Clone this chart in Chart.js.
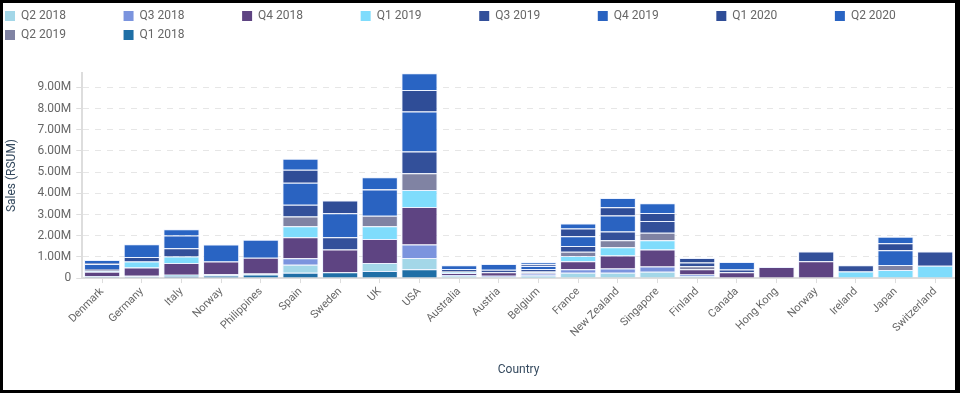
<!DOCTYPE html>
<html lang="en">
<head>
    <meta charset="UTF-8">
    <title>Sales (RSUM) by Country</title>
    <style>
        html, body { margin: 0; padding: 0; background: #000; }
        .frame {
            position: absolute; left: 3px; top: 3px; width: 952px; height: 387px;
            background: #fff; overflow: hidden;
        }
        #salesChart { position: absolute; left: -5px; top: 0; }
    </style>
</head>
<body>
    <div class="frame">
        <canvas id="salesChart" width="957" height="387"></canvas>
    </div>

    <script src="https://cdn.jsdelivr.net/npm/chart.js@4.4.1/dist/chart.umd.min.js"></script>
    <script>
        // values in millions
        var countries = ['Denmark', 'Germany', 'Italy', 'Norway', 'Philippines', 'Spain', 'Sweden', 'UK', 'USA',
            'Australia', 'Austria', 'Belgium', 'France', 'New Zealand', 'Singapore', 'Finland', 'Canada',
            'Hong Kong', 'Norway', 'Ireland', 'Japan', 'Switzerland'];

        var q1_2018 = [0.05, 0.06, 0.10, 0.12, 0.17, 0.25, 0.28, 0.33, 0.42, 0.03, 0, 0.02, 0, 0, 0, 0, 0, 0, 0, 0, 0, 0];
        var q2_2018 = [0.03, 0.03, 0.06, 0.06, 0.05, 0.38, 0, 0.38, 0.53, 0.08, 0.06, 0.10, 0.25, 0.25, 0.30, 0.09, 0, 0, 0, 0, 0, 0];
        var q3_2018 = [0.02, 0.02, 0, 0, 0, 0.31, 0, 0, 0.63, 0.03, 0.05, 0.10, 0.17, 0.20, 0.25, 0.08, 0, 0, 0, 0, 0, 0];
        var q4_2018 = [0.20, 0.39, 0.55, 0.60, 0.74, 0.99, 1.07, 1.13, 1.78, 0.10, 0.16, 0.03, 0.38, 0.61, 0.80, 0.25, 0.27, 0.52, 0.79, 0, 0, 0];
        var q1_2019 = [0.03, 0.28, 0.31, 0, 0, 0.52, 0, 0.61, 0.80, 0.04, 0, 0.03, 0.24, 0.39, 0.44, 0, 0, 0, 0, 0.31, 0.38, 0.58];
        var q2_2019 = [0.05, 0, 0, 0, 0, 0.46, 0, 0.49, 0.79, 0.05, 0, 0.03, 0.20, 0.33, 0.35, 0.14, 0, 0, 0, 0, 0.24, 0];
        var q3_2019 = [0.05, 0, 0.39, 0, 0, 0.55, 0.58, 0, 1.02, 0.10, 0.12, 0.12, 0.27, 0.42, 0.55, 0.17, 0.14, 0, 0.47, 0.30, 0, 0.68];
        var q4_2019 = [0.24, 0, 0.60, 0, 0.85, 1.04, 1.13, 1.24, 1.89, 0.17, 0.27, 0.14, 0.47, 0.75, 0, 0, 0.35, 0, 0, 0, 0.69, 0];
        var q1_2020 = [0.04, 0.22, 0, 0, 0, 0.61, 0.60, 0.03, 1.02, 0, 0, 0.08, 0.36, 0.39, 0.38, 0.22, 0, 0, 0, 0, 0.33, 0];
        var q2_2020 = [0.14, 0.60, 0.30, 0.80, 0, 0.52, 0, 0.55, 0.79, 0, 0, 0.10, 0.24, 0.44, 0.46, 0, 0, 0, 0, 0, 0.31, 0];

        // stacking order is chronological, legend order is not
        var quarters = ['Q1 2018', 'Q2 2018', 'Q3 2018', 'Q4 2018', 'Q1 2019', 'Q2 2019', 'Q3 2019', 'Q4 2019', 'Q1 2020', 'Q2 2020'];
        var series = [q1_2018, q2_2018, q3_2018, q4_2018, q1_2019, q2_2019, q3_2019, q4_2019, q1_2020, q2_2020];
        var colors = ['#1f6fa6', '#a3d7e8', '#7b94de', '#5e4482', '#7fdcfc', '#8083a3', '#33509a', '#2a63c1', '#2f4d97', '#2964c3'];
        var legendOrder = ['Q2 2018', 'Q3 2018', 'Q4 2018', 'Q1 2019', 'Q3 2019', 'Q4 2019', 'Q1 2020', 'Q2 2020', 'Q2 2019', 'Q1 2018'];
        var rowEnds = ['Q2 2020', 'Q1 2018'];

        var yMax = 9.68;
        var yTicks = [0, 1, 2, 3, 4, 5, 6, 7, 8, 9];

        Chart.defaults.font.family = 'Roboto, "Open Sans", sans-serif';
        Chart.defaults.color = '#666';

        // legend columns in the picture are evenly spaced, so pad the label text
        var measure = document.createElement('canvas').getContext('2d');
        measure.font = '12px Roboto';
        function padLabel(text) {
            var s = text;
            while (measure.measureText(s + ' ').width <= 96) s += ' ';
            return s;
        }

        var datasets = quarters.map(function (q, i) {
            return {
                label: q,
                data: series[i].map(function (v) { return v === 0 ? null : v; }),
                backgroundColor: colors[i],
                borderColor: 'rgba(220,232,255,0.55)',
                borderWidth: 1,
                categoryPercentage: 0.91,
                barPercentage: 1.0
            };
        });

        var legendGap = {
            id: 'legendGap',
            beforeInit: function (chart) {
                var fit = chart.legend.fit;
                chart.legend.fit = function () {
                    fit.call(this);
                    this.height += 22;
                };
            }
        };

        new Chart(document.getElementById('salesChart'), {
            type: 'bar',
            data: { labels: countries, datasets: datasets },
            plugins: [legendGap],
            options: {
                responsive: false,
                animation: false,
                devicePixelRatio: 1,
                layout: { padding: { top: 0, left: 0, right: 0, bottom: 0 } },
                plugins: {
                    tooltip: { enabled: false },
                    legend: {
                        position: 'top',
                        align: 'start',
                        labels: {
                            boxWidth: 10,
                            boxHeight: 10,
                            padding: 7,
                            color: '#666',
                            font: { size: 12 },
                            generateLabels: function (chart) {
                                var items = Chart.defaults.plugins.legend.labels.generateLabels(chart);
                                items.sort(function (a, b) {
                                    return legendOrder.indexOf(a.text) - legendOrder.indexOf(b.text);
                                });
                                items.forEach(function (it) {
                                    it.lineWidth = 0;
                                    it.strokeStyle = 'rgba(0,0,0,0)';
                                    if (rowEnds.indexOf(it.text) < 0) it.text = padLabel(it.text);
                                });
                                return items;
                            }
                        }
                    }
                },
                scales: {
                    x: {
                        stacked: true,
                        grid: { drawOnChartArea: false, offset: false, tickLength: 5, tickColor: '#ddd' },
                        border: { color: '#ddd', width: 2 },
                        ticks: { autoSkip: false, minRotation: 45, maxRotation: 45, padding: 2, font: { size: 11 }, color: '#666' },
                        title: { display: true, text: 'Country', color: '#34495e', font: { size: 12 }, padding: { top: 21, bottom: 13 } }
                    },
                    y: {
                        stacked: true,
                        min: 0,
                        max: yMax,
                        afterBuildTicks: function (axis) {
                            axis.ticks = yTicks.map(function (v) { return { value: v }; });
                        },
                        grid: { color: '#e6e6e6', tickLength: 6, tickColor: '#ddd', tickBorderDash: [] },
                        border: { color: '#ddd', width: 2, dash: [6, 6] },
                        ticks: {
                            padding: 5,
                            font: { size: 12 },
                            color: '#666',
                            callback: function (v) { return v === 0 ? '0' : v.toFixed(2) + 'M'; }
                        },
                        title: { display: true, text: 'Sales (RSUM)', color: '#34495e', font: { size: 12 }, padding: { top: 7, bottom: 13 } }
                    }
                }
            }
        });
    </script>
</body>
</html>
